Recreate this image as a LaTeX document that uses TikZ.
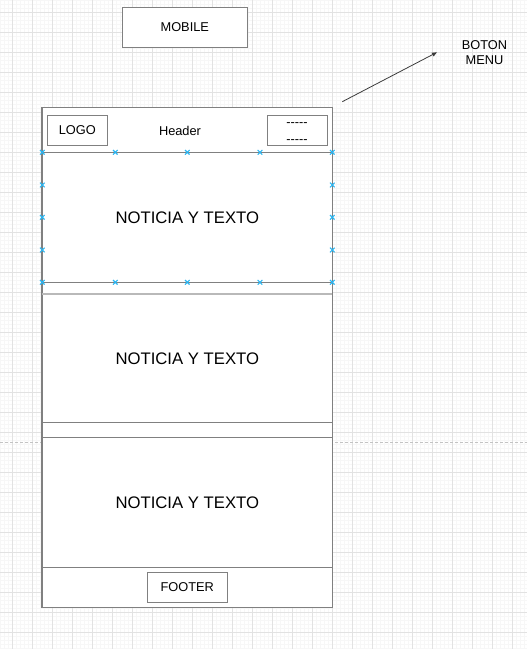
\documentclass[tikz,border=0pt]{standalone}
\usepackage{fontspec}
\setmainfont{Liberation Sans}
\usetikzlibrary{arrows.meta}
\definecolor{boxgray}{RGB}{128,128,128}
\definecolor{lightline}{RGB}{185,185,185}
\definecolor{gridmajor}{RGB}{226,226,226}
\definecolor{gridminor}{RGB}{247,247,247}
\definecolor{handle}{RGB}{41,182,242}
\definecolor{pagebreak}{RGB}{195,195,195}
\definecolor{arrowgray}{RGB}{60,60,60}
\tikzset{
  frame/.style={draw=boxgray, line width=1pt, fill=white, rectangle, inner sep=0pt},
  small/.style={font=\fontsize{12.8}{15.7}\selectfont, text=black, inner sep=0pt},
  big/.style={font=\fontsize{16.7}{20}\selectfont, text=black},
  handlemark/.style={draw=handle, line width=1.1pt},
}
\newcommand{\dashrow}{{-}{-}{-}{-}{-}}
\begin{document}
\begin{tikzpicture}[x=1pt,y=-1pt]
\useasboundingbox (0,0) rectangle (527,649);
\fill[white] (0,0) rectangle (527,649);
% grid
\foreach \i in {0,...,131} {\draw[gridminor, line width=0.7pt] (0.5+4*\i,0) -- (0.5+4*\i,649);}
\foreach \i in {0,...,162} {\draw[gridminor, line width=0.7pt] (0,0.5+4*\i) -- (527,0.5+4*\i);}
\foreach \i in {0,...,25} {\draw[gridmajor, line width=1pt] (12.5+20*\i,0) -- (12.5+20*\i,649);}
\foreach \i in {0,...,31} {\draw[gridmajor, line width=1pt] (0,12.5+20*\i) -- (527,12.5+20*\i);}
% page break line
\draw[pagebreak, line width=1pt, dash pattern=on 3pt off 2pt] (0,442.5) -- (527,442.5);

% title
\node[frame, small, inner sep=0pt, minimum width=125pt, minimum height=40pt] (mobile) at (184.8,27) {MOBILE};

% phone frame
\node[frame, minimum width=290pt, minimum height=500pt] (phone) at (187.3,357.3) {};
\node[frame, minimum width=290pt, minimum height=45pt] (header) at (187.3,129.8) {};
\node[frame, big, minimum width=290pt, minimum height=130pt] (noticia1) at (187.3,217.3) {NOTICIA Y TEXTO};
\node[frame, big, minimum width=290pt, minimum height=127.6pt] (noticia2) at (187.3,358.5) {NOTICIA Y TEXTO};
\draw[lightline, line width=1.8pt] (noticia2.north west) -- (noticia2.north east);
\node[frame, big, minimum width=290pt, minimum height=130pt] (noticia3) at (187.3,502.3) {NOTICIA Y TEXTO};
\node[frame, minimum width=290pt, minimum height=40pt] (footerbar) at (187.3,587.3) {};
\draw[boxgray, line width=1pt] (phone.north west) -- (phone.south west) (phone.north east) -- (phone.south east);

% header content
\node[frame, small, minimum width=60pt, minimum height=30pt] (logo) at (77.3,130) {LOGO};
\node[small] (headertext) at (180,131) {Header};
\node[frame, minimum width=60pt, minimum height=30pt] (menu) at (297.3,130) {};
\node[small, align=center, font=\fontsize{12.8}{16.6}\selectfont] (menutext) at (297,133) {\dashrow\\\dashrow};

% footer content
\node[frame, small, minimum width=80pt, minimum height=30pt] (footer) at (187.3,587.3) {FOOTER};

% selection handles on noticia1
\foreach \x/\y in {42.3/152.3,115.3/152.3,187.3/152.3,260/152.3,332.3/152.3,
                   42.3/282.3,115.3/282.3,187.3/282.3,260/282.3,332.3/282.3,
                   42.3/185,42.3/217.3,42.3/250,332.3/185,332.3/217.3,332.3/250}
  {\draw[handlemark] (\x-2.3,\y-2.3) -- (\x+2.3,\y+2.3) (\x-2.3,\y+2.3) -- (\x+2.3,\y-2.3);}

% arrow and label
\node[small, align=center] (botonmenu) at (484.5,52.5) {BOTON\\MENU};
\coordinate (arrowtail) at (342.3,101.7);
\coordinate (arrowtip) at (437,52.3);
\draw[arrowgray, line width=0.8pt, -{Triangle[length=5pt,width=4pt]}] (arrowtail) -- (arrowtip);
\end{tikzpicture}
\end{document}
